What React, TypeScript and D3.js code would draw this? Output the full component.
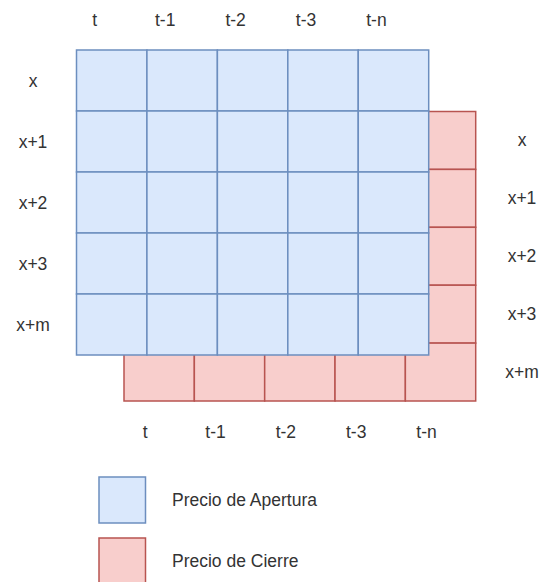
import * as d3 from 'd3';

// column labels (time steps) and row labels (series offsets)
const timeLabels = ['t', 't-1', 't-2', 't-3', 't-n'];
const rowLabels = ['x', 'x+1', 'x+2', 'x+3', 'x+m'];
const legendItems = ['Precio de Apertura', 'Precio de Cierre'];

const W = 543;
const H = 582;

const BLUE = { fill: '#dae8fc', stroke: '#6c8ebf' };
const RED = { fill: '#f8cecc', stroke: '#b85450' };

const font = '"Liberation Sans", Arial, Helvetica, sans-serif';
const textColor = '#333';

export default function App() {
  // front (blue) grid
  const bx = d3.scaleBand<string>().domain(timeLabels).range([76.5, 428.7]);
  const by = d3.scaleBand<string>().domain(rowLabels).range([50, 355]);
  // back (red) grid, shifted down-right
  const rx = d3.scaleBand<string>().domain(timeLabels).range([124, 475.7]);
  const ry = d3.scaleBand<string>().domain(rowLabels).range([111.5, 401]);

  const legendY = d3.scaleBand<string>().domain(legendItems).range([477, 584]).paddingInner(0.246).paddingOuter(0);
  const legendColors = [BLUE, RED];

  const cells = (xs: d3.ScaleBand<string>, ys: d3.ScaleBand<string>) =>
    rowLabels.flatMap((r) => timeLabels.map((t) => ({ r, t, x: xs(t)!, y: ys(r)! })));

  const label = (txt: string, x: number, y: number, anchor = 'middle') => (
    <text
      key={txt + x + y}
      x={x}
      y={y}
      textAnchor={anchor}
      dominantBaseline="central"
      fontFamily={font}
      fontSize={17.5}
      fill={textColor}
    >
      {txt}
    </text>
  );

  return (
    <div style={{ position: 'fixed', left: 0, top: 0, width: W, height: H, background: '#fff' }}>
      <svg width={W} height={H} viewBox={`0 0 ${W} ${H}`}>
        <g>
          {cells(rx, ry).map((c) => (
            <rect
              key={'r' + c.r + c.t}
              x={c.x}
              y={c.y}
              width={rx.bandwidth()}
              height={ry.bandwidth()}
              fill={RED.fill}
              stroke={RED.stroke}
              strokeWidth={1.5}
            />
          ))}
        </g>
        <g>
          {cells(bx, by).map((c) => (
            <rect
              key={'b' + c.r + c.t}
              x={c.x}
              y={c.y}
              width={bx.bandwidth()}
              height={by.bandwidth()}
              fill={BLUE.fill}
              stroke={BLUE.stroke}
              strokeWidth={1.5}
            />
          ))}
        </g>

        {/* top labels (blue columns) */}
        {timeLabels.map((t) => label(t, bx(t)! + bx.bandwidth() / 2 - 17, 20))}
        {/* bottom labels (red columns) */}
        {timeLabels.map((t) => label(t, rx(t)! + rx.bandwidth() / 2 - 14, 432))}
        {/* left labels (blue rows) */}
        {rowLabels.map((r) => label(r, 33, by(r)! + by.bandwidth() / 2))}
        {/* right labels (red rows) */}
        {rowLabels.map((r) => label(r, 522, ry(r)! + ry.bandwidth() / 2))}

        {/* legend */}
        {legendItems.map((name, i) => (
          <g key={name}>
            <rect
              x={99}
              y={legendY(name)!}
              width={46.5}
              height={legendY.bandwidth()}
              fill={legendColors[i].fill}
              stroke={legendColors[i].stroke}
              strokeWidth={1.5}
            />
            {label(name, 172, legendY(name)! + legendY.bandwidth() / 2, 'start')}
          </g>
        ))}
      </svg>
    </div>
  );
}
